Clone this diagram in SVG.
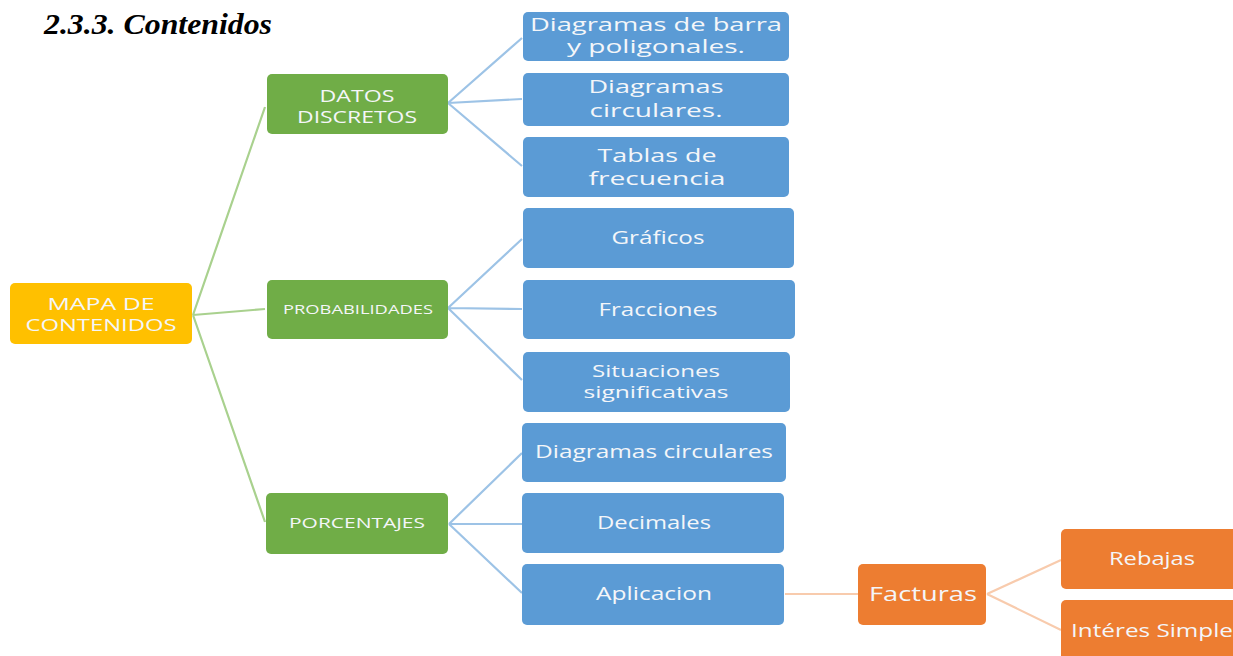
<svg xmlns="http://www.w3.org/2000/svg" width="1233" height="656" viewBox="0 0 1233 656">
<style>
.t{font-family:"Open Sans","Liberation Sans",sans-serif;fill:#F4F6F9;text-anchor:middle}
.b{fill:#5B9BD5}
.g{fill:#70AD47}
.o{fill:#ED7D31}
.y{fill:#FFC000}
.lg{stroke:#A9D18E;stroke-width:2.2;fill:none}
.lb{stroke:#9DC3E6;stroke-width:2.2;fill:none}
.lo{stroke:#F8CBAD;stroke-width:2.2;fill:none}
</style>
<rect width="1233" height="656" fill="#FFFFFF"/>
<text x="44" y="34" font-family="'Liberation Serif',serif" font-weight="bold" font-style="italic" font-size="30" fill="#000" textLength="228" lengthAdjust="spacingAndGlyphs">2.3.3. Contenidos</text>
<g id="connectors">
<path class="lg" d="M193 315 L265 107 M193 315 L265 309 M193 315 L265 522"/>
<path class="lb" d="M448 103 L522 38 M448 103 L522 99 M448 103 L522 166"/>
<path class="lb" d="M448 308 L522 239 M448 308 L522 309 M448 308 L522 380"/>
<path class="lb" d="M449 524 L522 453 M449 524 L522 524 M449 524 L522 593"/>
<path class="lo" d="M785 594 L859 594"/>
<path class="lo" d="M987 594 L1061 560 M987 594 L1061 630"/>
</g>
<g id="mapa"><rect class="y" x="10" y="283" width="182" height="61" rx="5"/>
<text class="t" x="101" y="310" font-size="17" textLength="107" lengthAdjust="spacingAndGlyphs">MAPA DE</text>
<text class="t" x="101" y="331" font-size="17" textLength="151" lengthAdjust="spacingAndGlyphs">CONTENIDOS</text></g>
<g id="datos"><rect class="g" x="267" y="74" width="181" height="60" rx="5"/>
<text class="t" x="357" y="102" font-size="17" textLength="75" lengthAdjust="spacingAndGlyphs">DATOS</text>
<text class="t" x="357" y="123" font-size="17" textLength="120" lengthAdjust="spacingAndGlyphs">DISCRETOS</text></g>
<g id="prob"><rect class="g" x="267" y="280" width="181" height="59" rx="5"/>
<text class="t" x="358" y="314" font-size="13.5" textLength="150" lengthAdjust="spacingAndGlyphs">PROBABILIDADES</text></g>
<g id="porc"><rect class="g" x="266" y="493" width="182" height="61" rx="5"/>
<text class="t" x="357" y="528" font-size="14" textLength="136" lengthAdjust="spacingAndGlyphs">PORCENTAJES</text></g>
<g id="barra"><rect class="b" x="523" y="12" width="266" height="49" rx="5"/>
<text class="t" x="656" y="31" font-size="19" textLength="252" lengthAdjust="spacingAndGlyphs">Diagramas de barra</text>
<text class="t" x="656" y="53" font-size="19" textLength="178" lengthAdjust="spacingAndGlyphs">y poligonales.</text></g>
<g id="circ1"><rect class="b" x="523" y="73" width="266" height="53" rx="5"/>
<text class="t" x="656" y="93" font-size="19" textLength="135" lengthAdjust="spacingAndGlyphs">Diagramas</text>
<text class="t" x="656" y="117" font-size="19" textLength="133" lengthAdjust="spacingAndGlyphs">circulares.</text></g>
<g id="tablas"><rect class="b" x="523" y="137" width="266" height="60" rx="5"/>
<text class="t" x="657" y="162" font-size="19" textLength="119" lengthAdjust="spacingAndGlyphs">Tablas de</text>
<text class="t" x="657" y="185" font-size="19" textLength="137" lengthAdjust="spacingAndGlyphs">frecuencia</text></g>
<g id="graficos"><rect class="b" x="523" y="208" width="271" height="60" rx="5"/>
<text class="t" x="658" y="244" font-size="18" textLength="93" lengthAdjust="spacingAndGlyphs">Gráficos</text></g>
<g id="fracciones"><rect class="b" x="523" y="280" width="272" height="59" rx="5"/>
<text class="t" x="658" y="316" font-size="18" textLength="119" lengthAdjust="spacingAndGlyphs">Fracciones</text></g>
<g id="situaciones"><rect class="b" x="523" y="352" width="267" height="60" rx="5"/>
<text class="t" x="656" y="377" font-size="17" textLength="128" lengthAdjust="spacingAndGlyphs">Situaciones</text>
<text class="t" x="656" y="398" font-size="17" textLength="145" lengthAdjust="spacingAndGlyphs">significativas</text></g>
<g id="circ2"><rect class="b" x="522" y="423" width="264" height="59" rx="5"/>
<text class="t" x="654" y="458" font-size="18" textLength="238" lengthAdjust="spacingAndGlyphs">Diagramas circulares</text></g>
<g id="decimales"><rect class="b" x="522" y="493" width="262" height="60" rx="5"/>
<text class="t" x="654" y="529" font-size="18" textLength="114" lengthAdjust="spacingAndGlyphs">Decimales</text></g>
<g id="aplicacion"><rect class="b" x="522" y="564" width="262" height="61" rx="5"/>
<text class="t" x="654" y="600" font-size="18" textLength="116" lengthAdjust="spacingAndGlyphs">Aplicacion</text></g>
<g id="facturas"><rect class="o" x="858" y="564" width="128" height="61" rx="5"/>
<text class="t" x="923" y="601" font-size="20" textLength="108" lengthAdjust="spacingAndGlyphs">Facturas</text></g>
<g id="rebajas"><rect class="o" x="1061" y="529" width="180" height="60" rx="5"/>
<text class="t" x="1152" y="565" font-size="18" textLength="86" lengthAdjust="spacingAndGlyphs">Rebajas</text></g>
<g id="interes"><rect class="o" x="1061" y="600" width="180" height="62" rx="5"/>
<text class="t" x="1152" y="637" font-size="18" textLength="162" lengthAdjust="spacingAndGlyphs">Intéres Simple</text></g>
</svg>
